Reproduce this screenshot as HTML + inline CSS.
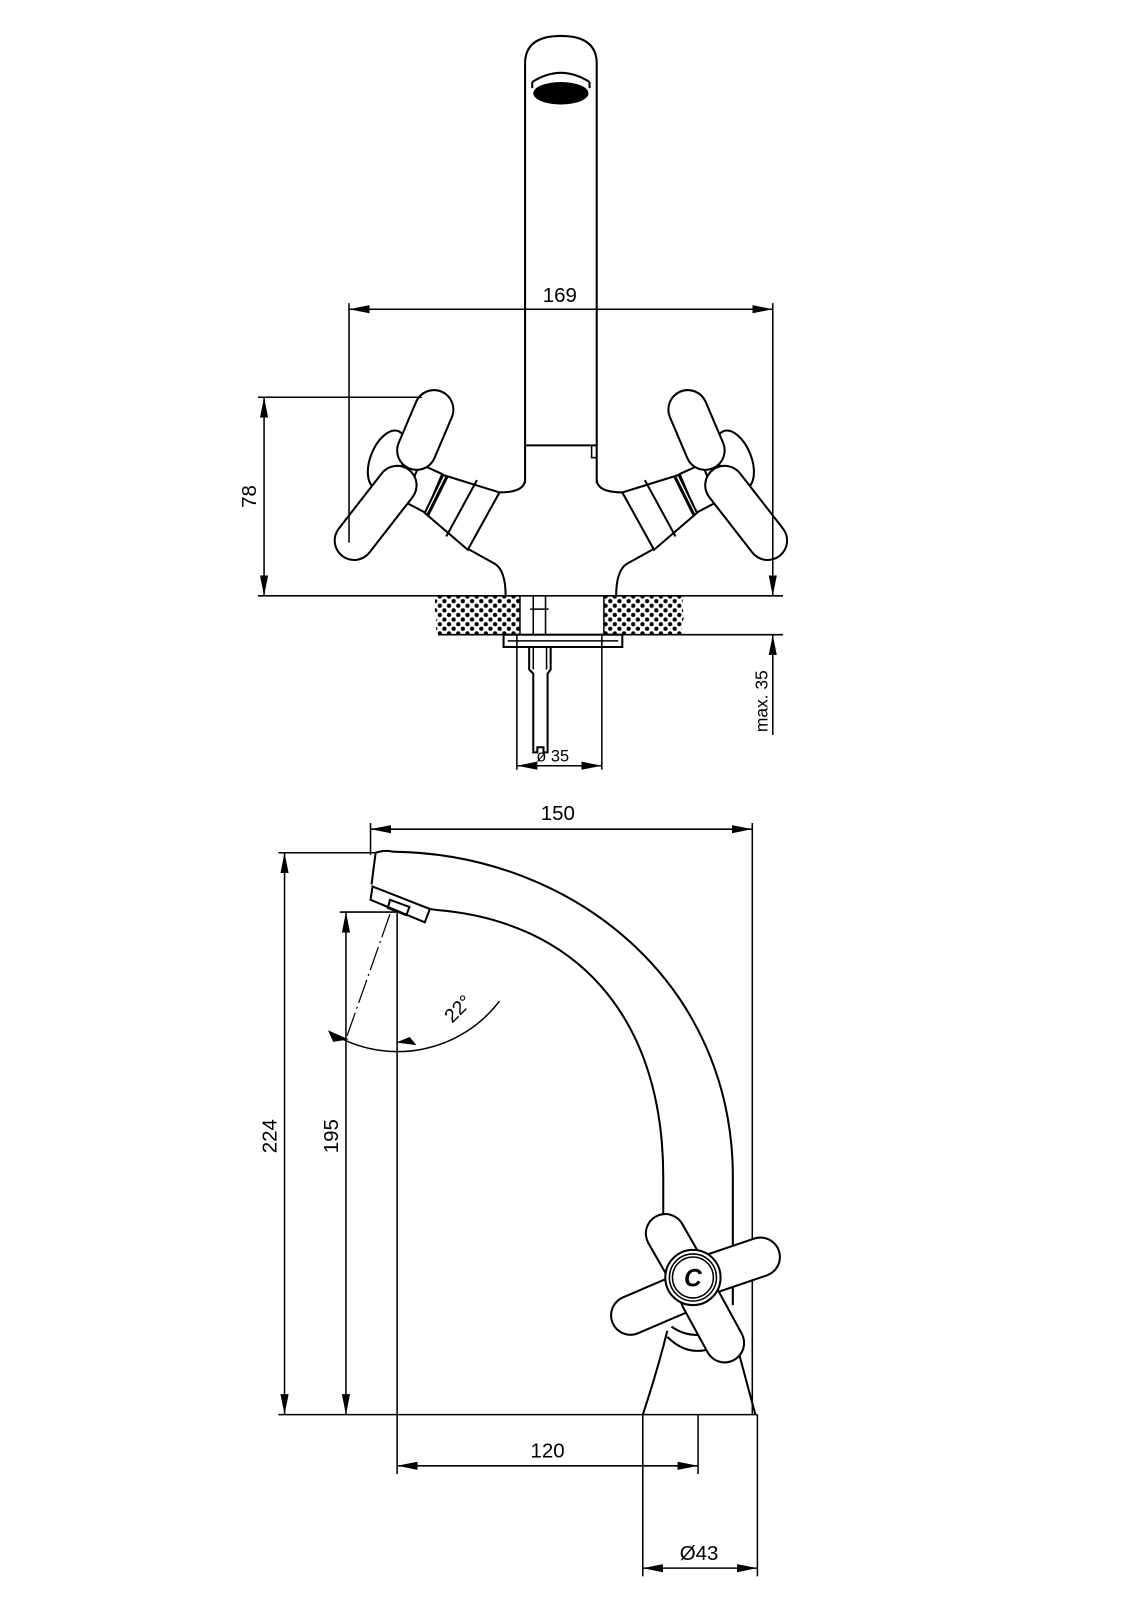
<!DOCTYPE html>
<html><head><meta charset="utf-8"><style>html,body{margin:0;padding:0;background:#fff}svg{display:block}</style></head>
<body>
<svg width="1131" height="1600" viewBox="0 0 1105 1563" xmlns="http://www.w3.org/2000/svg" font-family="'Liberation Sans', sans-serif">
<defs>
<pattern id="dots" width="9" height="9" patternUnits="userSpaceOnUse">
<circle cx="2.2" cy="2.2" r="2.1" fill="#000"/><circle cx="6.7" cy="6.7" r="2.1" fill="#000"/>
</pattern>
<marker id="a" viewBox="0 0 20 8" refX="20" refY="4" markerWidth="20" markerHeight="8" markerUnits="userSpaceOnUse" orient="auto-start-reverse"><path d="M0,0 L20,4 L0,8 Z" fill="#000"/></marker>
<g id="lhandle">
 <ellipse cx="378" cy="449" rx="16" ry="30" transform="rotate(22 378 449)" fill="#fff" stroke="#000" stroke-width="2"/>
 <polygon points="410,453 432,463 416,501 395,490" fill="#fff" stroke="#000" stroke-width="2"/>
 <polygon points="433,464 488,481 457,537 415,501" fill="#fff" stroke="#000" stroke-width="2"/>
 <line x1="466" y1="469" x2="436" y2="524" stroke="#000" stroke-width="2"/>
 <line x1="437" y1="465" x2="418" y2="503" stroke="#000" stroke-width="3"/>
 <line x1="424" y1="400" x2="407" y2="440" stroke="#000" stroke-width="40" stroke-linecap="round"/>
 <line x1="424" y1="400" x2="407" y2="440" stroke="#fff" stroke-width="36" stroke-linecap="round"/>
 <line x1="388" y1="474" x2="346" y2="528" stroke="#000" stroke-width="40" stroke-linecap="round"/>
 <line x1="388" y1="474" x2="346" y2="528" stroke="#fff" stroke-width="36" stroke-linecap="round"/>
 <path d="M513,469 Q512,481 488,481" fill="none" stroke="#000" stroke-width="2"/>
 <path d="M457,536 L484,551 Q494,558 494,582" fill="none" stroke="#000" stroke-width="2"/>
</g>
</defs>
<g fill="none" stroke="#000" stroke-width="1.5">
<path d="M513,472 L513,62 Q513,35 548,35 Q583,35 583,62 L583,472" stroke-width="2"/>
<path d="M520,80 Q548,62 576,80" stroke-width="2"/>
<path d="M520,80 L520,86 M576,80 L576,86" stroke-width="2"/>
<ellipse cx="548" cy="91" rx="27" ry="11" fill="#000" stroke="none"/>
<line x1="513" y1="435" x2="583" y2="435" stroke-width="2"/>
<path d="M578,435 L578,447 L583,447"/>
<use href="#lhandle"/>
<use href="#lhandle" transform="translate(1096 0) scale(-1 1)"/>

<line x1="341" y1="302" x2="755" y2="302" marker-start="url(#a)" marker-end="url(#a)"/>
<line x1="341" y1="296" x2="341" y2="530"/>
<line x1="755" y1="296" x2="755" y2="582" marker-end="url(#a)"/>
<line x1="252" y1="388" x2="412" y2="388"/>
<line x1="258" y1="388" x2="258" y2="582" marker-start="url(#a)" marker-end="url(#a)"/>
<line x1="252" y1="582" x2="765" y2="582"/>
<path d="M426,582 L508,582 L508,620 L428,620 Q424,612 427,603 Q423,594 426,582 Z" fill="url(#dots)" stroke="none"/>
<path d="M590,582 L668,582 Q665,592 669,602 Q664,612 668,620 L590,620 Z" fill="url(#dots)" stroke="none"/>
<line x1="428" y1="620" x2="508" y2="620"/>
<line x1="590" y1="620" x2="765" y2="620"/>
<line x1="508" y1="582" x2="508" y2="620"/>
<line x1="590" y1="582" x2="590" y2="620"/>
<path d="M521,582 L521,620 M533,582 L533,620 M518,595 L536,595"/>
<rect x="492" y="620" width="116" height="12" fill="#fff" stroke-width="2"/>
<line x1="496" y1="626" x2="604" y2="626"/>
<path d="M517,632 L517,654 L521,658 L521,735 L525,735 L525,730 L531,730 L531,735 L535,735 L535,658 L538,654 L538,632" stroke-width="2"/>
<line x1="521" y1="632" x2="521" y2="654"/><line x1="534" y1="632" x2="534" y2="654"/>
<line x1="755" y1="718" x2="755" y2="620" marker-end="url(#a)"/>
<line x1="505" y1="620" x2="505" y2="752"/>
<line x1="588" y1="620" x2="588" y2="752"/>
<line x1="505" y1="748" x2="588" y2="748" marker-start="url(#a)" marker-end="url(#a)"/>

<line x1="362" y1="810" x2="735" y2="810" marker-start="url(#a)" marker-end="url(#a)"/>
<line x1="362" y1="804" x2="362" y2="835"/>
<line x1="735" y1="804" x2="735" y2="1382"/>
<line x1="272" y1="833" x2="368" y2="833"/>
<line x1="278" y1="833" x2="278" y2="1382" marker-start="url(#a)" marker-end="url(#a)"/>
<line x1="332" y1="891" x2="392" y2="891"/>
<line x1="338" y1="891" x2="338" y2="1382" marker-start="url(#a)" marker-end="url(#a)"/>
<line x1="272" y1="1382" x2="740" y2="1382"/>
<line x1="388" y1="891" x2="388" y2="1440"/>
<line x1="682" y1="1382" x2="682" y2="1440"/>
<line x1="388" y1="1432" x2="682" y2="1432" marker-start="url(#a)" marker-end="url(#a)"/>
<line x1="628" y1="1382" x2="628" y2="1540"/>
<line x1="740" y1="1382" x2="740" y2="1540"/>
<line x1="628" y1="1532" x2="740" y2="1532" marker-start="url(#a)" marker-end="url(#a)"/>

<path d="M367,833 Q376,830 384,832 C560,834 716,960 716,1150 L716,1275" stroke-width="2"/>
<path d="M427,889 C560,900 648,990 648,1150 L648,1200" stroke-width="2"/>
<path d="M367,833 L363,864" stroke-width="2"/>
<polygon points="364,866 362,879 415,901 420,888" stroke-width="2"/>
<polygon points="381,879 400,886 397,894 379,887" stroke-width="2"/>
<line x1="420" y1="888" x2="427" y2="889" stroke-width="2"/>
<line x1="381" y1="893" x2="338" y2="1015" stroke-dasharray="24,4,2,4" stroke-width="1.2"/>
<path d="M325,1010 A125,125 0 0 0 488,978" stroke-width="1.5"/>
<path d="M322,1008 L338,1015 L326,1017 Z" fill="#000"/>
<path d="M405,1020 L390,1018 L400,1014 Z" fill="#000"/>

<path d="M652,1300 Q642,1340 628,1382" stroke-width="2"/>
<path d="M716,1300 Q728,1345 738,1382" stroke-width="2"/>
<path d="M652,1306 Q676,1330 706,1312" stroke-width="2"/>
<path d="M656,1296 Q676,1310 702,1300" stroke-width="2"/>
<g stroke-linecap="round">
<line x1="650" y1="1205" x2="670" y2="1240" stroke="#000" stroke-width="40"/>
<line x1="650" y1="1205" x2="670" y2="1240" stroke="#fff" stroke-width="36"/>
<line x1="743" y1="1228" x2="690" y2="1246" stroke="#000" stroke-width="40"/>
<line x1="743" y1="1228" x2="690" y2="1246" stroke="#fff" stroke-width="36"/>
<line x1="616" y1="1285" x2="665" y2="1264" stroke="#000" stroke-width="40"/>
<line x1="616" y1="1285" x2="665" y2="1264" stroke="#fff" stroke-width="36"/>
<line x1="708" y1="1312" x2="684" y2="1268" stroke="#000" stroke-width="40"/>
<line x1="708" y1="1312" x2="684" y2="1268" stroke="#fff" stroke-width="36"/>
</g>
<circle cx="677" cy="1248" r="27" fill="#fff" stroke-width="2"/>
<circle cx="677" cy="1248" r="23" stroke-width="1.5"/>
<circle cx="677" cy="1248" r="20" stroke-width="1.5"/>
</g>

<g fill="#000" font-size="20" text-anchor="middle">
<text x="547" y="295">169</text>
<text transform="translate(250 485) rotate(-90)" font-size="20">78</text>
<text transform="translate(750 685) rotate(-90)" font-size="17">max. 35</text>
<text x="540" y="744" font-size="16">ø 35</text>
<text x="545" y="801">150</text>
<text transform="translate(270 1110) rotate(-90)">224</text>
<text transform="translate(330 1110) rotate(-90)">195</text>
<text x="535" y="1424">120</text>
<text x="683" y="1524">Ø43</text>
<text transform="translate(452 990) rotate(-45)" font-size="19">22°</text>
<text x="677" y="1257" font-size="24" font-weight="bold" font-style="italic">C</text>
</g>
</svg>
</body></html>
